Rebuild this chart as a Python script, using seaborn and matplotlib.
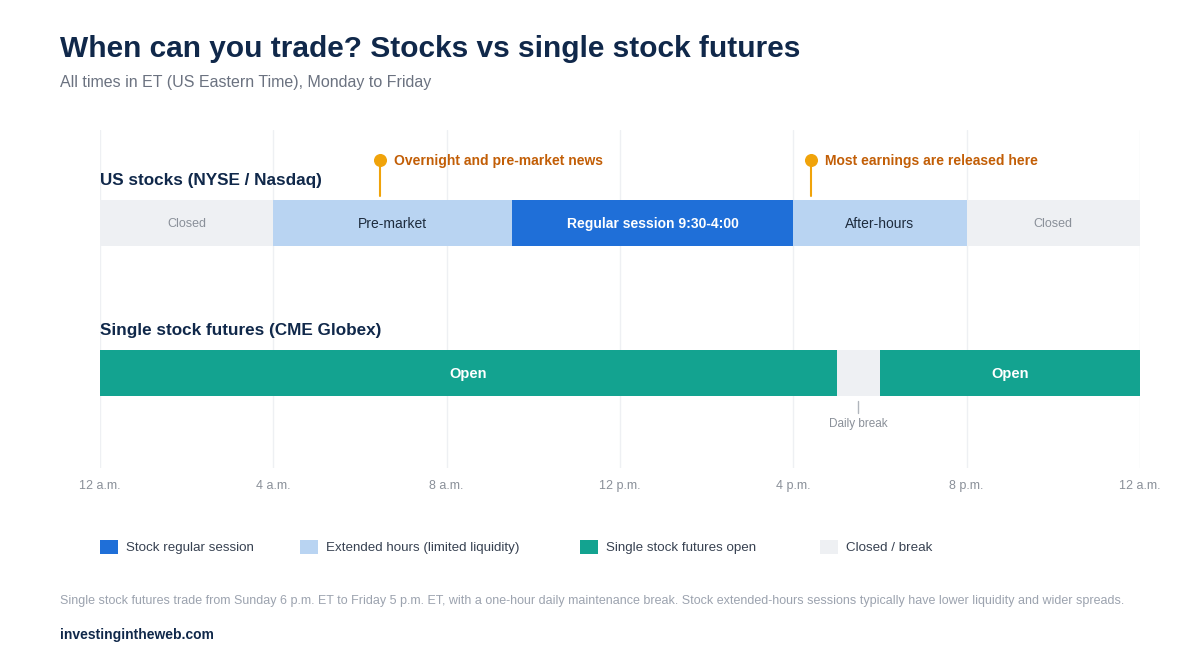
import numpy as np
import pandas as pd
import seaborn as sns
import matplotlib.pyplot as plt
from matplotlib.patches import Rectangle

sns.set_theme(style="white")
plt.rcParams['font.family'] = ['Liberation Sans', 'DejaVu Sans']

# data (hours after midnight ET)
stock_labels = ['Closed', 'Pre-market', 'Regular session 9:30-4:00', 'After-hours', 'Closed']
stock_start = [0, 4, 9.5, 16, 20]
stock_end = [4, 9.5, 16, 20, 24]
stock_kind = ['closed', 'ext', 'reg', 'ext', 'closed']

fut_labels = ['Open', '', 'Open']
fut_start = [0, 17, 18]
fut_end = [17, 18, 24]
fut_kind = ['fut', 'closed', 'fut']

tick_hours = [0, 4, 8, 12, 16, 20, 24]
tick_labels = ['12 a.m.', '4 a.m.', '8 a.m.', '12 p.m.', '4 p.m.', '8 p.m.', '12 a.m.']

notes = ['Overnight and pre-market news', 'Most earnings are released here']
note_hours = [6.45, 16.4]

COLORS = {'reg': '#1f6fd8', 'ext': '#b9d4f2', 'fut': '#13a390', 'closed': '#eef0f3'}
TEXT_COLORS = {'reg': 'white', 'ext': '#1d2b3d', 'fut': 'white', 'closed': '#8a9099'}
NAVY = '#10284a'

W, H = 1200, 660
fig = plt.figure(figsize=(12, 6.6), dpi=100)
ax = fig.add_axes([100 / W, 1 - 468 / H, 1040 / W, 338 / H])
ax.set_xlim(0, 24)
ax.set_ylim(468, 130)
for s in ax.spines.values():
    s.set_visible(False)
ax.set_yticks([])
ax.set_xticks([])
for h, lab in zip(tick_hours, tick_labels):
    ax.axvline(h, color='#eef0f3', lw=1, zorder=0)
    ax.text(h, 486, lab, ha='center', va='center', fontsize=9, color='#8a9099', clip_on=False)

# stock bars
for lab, a, b, k in zip(stock_labels, stock_start, stock_end, stock_kind):
    ax.barh(223, b - a, left=a, height=46, color=COLORS[k], linewidth=0, zorder=2)
    ax.text((a + b) / 2, 224, lab, ha='center', va='center', fontsize=10 if k != 'closed' else 9,
            color=TEXT_COLORS[k], fontweight='bold' if k == 'reg' else 'normal', zorder=3)

for lab, a, b, k in zip(fut_labels, fut_start, fut_end, fut_kind):
    ax.barh(373, b - a, left=a, height=46, color=COLORS[k], linewidth=0, zorder=2)
    if lab:
        ax.text((a + b) / 2, 374, lab, ha='center', va='center', fontsize=10.5,
                color=TEXT_COLORS[k], fontweight='bold', zorder=3)

# daily break label
bh = (fut_start[1] + fut_end[1]) / 2
ax.plot([bh, bh], [401, 413], color='#b0b5bc', lw=1)
ax.text(bh, 424, 'Daily break', ha='center', va='center', fontsize=8.5, color='#8a9099')

# annotations
for t, h in zip(notes, note_hours):
    ax.plot([h, h], [163, 196], color='#f0a30a', lw=1.5, zorder=3)
    ax.scatter([h], [160], s=70, color='#f0a30a', zorder=4)
    ax.text(h + 0.33, 161, t, ha='left', va='center', fontsize=10, color='#c25e06',
            fontweight='bold')

ax.text(0, 181, 'US stocks (NYSE / Nasdaq)', ha='left', va='center', fontsize=12.3,
        fontweight='bold', color=NAVY)
ax.text(0, 330, 'Single stock futures (CME Globex)', ha='left', va='center', fontsize=12.3,
        fontweight='bold', color=NAVY)

def ftext(x, y, s, **kw):
    fig.text(x / W, 1 - y / H, s, **kw)

ftext(60, 49, 'When can you trade? Stocks vs single stock futures', fontsize=21.5,
      fontweight='bold', color=NAVY, va='center')
ftext(60, 83, 'All times in ET (US Eastern Time), Monday to Friday', fontsize=11.5,
      color='#6b7280', va='center')

legend_items = [('Stock regular session', 'reg', 100), ('Extended hours (limited liquidity)', 'ext', 300),
                ('Single stock futures open', 'fut', 580), ('Closed / break', 'closed', 820)]
for lab, k, x in legend_items:
    fig.patches.append(Rectangle((x / W, 1 - 554 / H), 18 / W, 14 / H, transform=fig.transFigure,
                                 facecolor=COLORS[k], edgecolor='none'))
    ftext(x + 26, 548, lab, fontsize=9.6, color='#374151', va='center')

ftext(60, 601, 'Single stock futures trade from Sunday 6 p.m. ET to Friday 5 p.m. ET, with a one-hour '
      'daily maintenance break. Stock extended-hours sessions typically have lower liquidity and wider spreads.',
      fontsize=9, color='#9ca3af', va='center')
ftext(60, 635, 'investingintheweb.com', fontsize=10, fontweight='bold', color=NAVY, va='center')

fig.savefig('out.png', dpi=100, facecolor='white')
